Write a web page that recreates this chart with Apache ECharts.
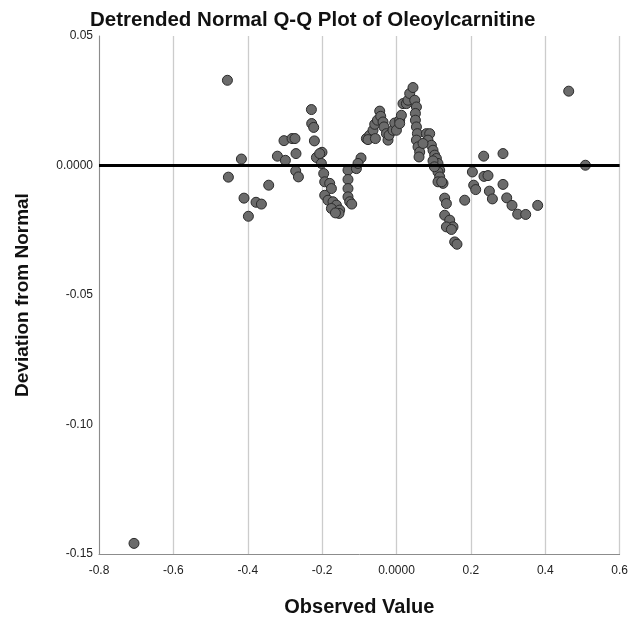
<!DOCTYPE html>
<html>
<head>
<meta charset="utf-8">
<script src="https://cdn.jsdelivr.net/npm/echarts@6/dist/echarts.min.js"></script>
<style>
html,body{margin:0;padding:0;background:#fff;}
#chart{width:631px;height:623px;}
</style>
</head>
<body>
<div id="chart"></div>
<script>
// Observed values (x) and deviation from normal (y)
const observed = [
  -0.4547,-0.4171,-0.4521,-0.3437,-0.4101,-0.3778,-0.3633,-0.3983,-0.3203,-0.2988,
  -0.3026,-0.2810,-0.2730,-0.2703,-0.2711,-0.2638,-0.2289,-0.2281,-0.2227,-0.2208,
  -0.2004,-0.2154,-0.2066,-0.2020,-0.1958,-0.1931,-0.1797,-0.1751,-0.1931,-0.1842,
  -0.1708,-0.1617,-0.1751,-0.1528,-0.1547,-0.1643,-0.1305,-0.1305,-0.1305,-0.1305,
  -0.1259,-0.1205,-0.1079,-0.0955,-0.1036,-0.0810,-0.0721,-0.0767,-0.0632,-0.0568,
  -0.0587,-0.0514,-0.0452,-0.0425,-0.0363,-0.0337,-0.0272,-0.0229,-0.0202,-0.0095,
  -0.0049,0.0085,0.0131,0.0174,-0.0003,0.0085,0.0266,0.0309,0.0354,0.0443,
  0.0489,0.0535,0.0508,0.0508,0.0535,0.0561,0.0535,0.0578,0.0623,0.0605,
  0.0803,0.0892,0.0846,0.0938,0.0981,0.1027,0.1072,0.1115,0.1161,0.1115,
  0.1161,0.1115,0.1250,0.1295,0.1341,0.1295,0.1430,0.1519,0.1341,0.1564,
  0.1626,0.1476,0.1833,0.2040,0.2075,0.2129,0.2352,0.2460,0.2344,0.2497,
  0.2578,0.2863,0.2863,0.2963,0.3105,0.3258,0.3474,0.3796,0.4630,0.5079,
  -0.7059,0.0712,0.0981,0.1019,0.1215
];
const deviation = [
  0.0329,0.0025,-0.0045,-0.0076,-0.0126,-0.0142,-0.0149,-0.0196,0.0036,0.0020,
  0.0096,0.0104,0.0104,0.0046,-0.0021,-0.0044,0.0216,0.0162,0.0147,0.0095,
  0.0051,0.0031,0.0046,0.0008,-0.0031,-0.0063,-0.0069,-0.0089,-0.0115,-0.0134,
  -0.0140,-0.0153,-0.0166,-0.0172,-0.0185,-0.0183,-0.0018,-0.0054,-0.0089,-0.0121,
  -0.0140,-0.0149,-0.0012,0.0029,0.0008,0.0104,0.0117,0.0100,0.0136,0.0104,
  0.0159,0.0175,0.0210,0.0190,0.0168,0.0149,0.0123,0.0098,0.0117,0.0136,
  0.0164,0.0175,0.0194,0.0239,0.0136,0.0162,0.0239,0.0252,0.0278,0.0301,
  0.0252,0.0226,0.0201,0.0175,0.0149,0.0123,0.0098,0.0072,0.0052,0.0033,
  0.0123,0.0123,0.0098,0.0078,0.0059,0.0040,0.0027,0.0008,-0.0018,-0.0025,
  -0.0044,-0.0063,-0.0069,-0.0126,-0.0147,-0.0192,-0.0211,-0.0237,-0.0237,-0.0295,
  -0.0304,-0.0247,-0.0134,-0.0025,-0.0076,-0.0093,-0.0042,-0.0039,0.0036,-0.0099,
  -0.0129,0.0046,-0.0073,-0.0125,-0.0154,-0.0188,-0.0189,-0.0154,0.0287,0.0001,
  -0.1459,0.0085,0.0018,-0.0005,-0.0063
];
const xTicks = { min: -0.8, max: 0.6, interval: 0.2 };
const yTicks = { min: -0.15, max: 0.05, interval: 0.05 };
const referenceValue = 0;

const titleText = 'Detrended Normal Q-Q Plot of Oleoylcarnitine';
const xName = 'Observed Value';
const yName = 'Deviation from Normal';

const points = observed.map((x, i) => [x, deviation[i]]);

function fmtX(v){ return Math.abs(v) < 1e-9 ? '0.0000' : v.toFixed(1); }
function fmtY(v){ return Math.abs(v) < 1e-9 ? '0.0000' : v.toFixed(2); }

const FONT = '"Liberation Sans", Arial, sans-serif';
const chart = echarts.init(document.getElementById('chart'), null, {renderer: 'canvas'});
chart.setOption({
  animation: false,
  backgroundColor: '#ffffff',
  title: {
    text: titleText,
    left: 85,
    top: 5,
    textStyle: { fontFamily: FONT, fontSize: 20.5, fontWeight: 'bold', color: '#111' }
  },
  grid: { left: 99, right: 11, top: 36, bottom: 69, containLabel: false },
  xAxis: {
    type: 'value',
    min: xTicks.min, max: xTicks.max, interval: xTicks.interval,
    name: xName,
    nameLocation: 'middle',
    nameGap: 43,
    nameTextStyle: { fontFamily: FONT, fontSize: 20, fontWeight: 'bold', color: '#111' },
    axisLine: { show: true, onZero: false, lineStyle: { color: '#8c8c8c', width: 1 } },
    axisTick: { show: false },
    axisLabel: { fontFamily: FONT, fontSize: 12, color: '#222', margin: 11, formatter: fmtX, showMinLabel: true, showMaxLabel: true },
    splitLine: { show: true, lineStyle: { color: '#cccccc', width: 1.3 } }
  },
  yAxis: {
    type: 'value',
    min: yTicks.min, max: yTicks.max, interval: yTicks.interval,
    name: yName,
    nameLocation: 'middle',
    nameGap: 67,
    nameTextStyle: { fontFamily: FONT, fontSize: 19, fontWeight: 'bold', color: '#111' },
    axisLine: { show: true, onZero: false, lineStyle: { color: '#8c8c8c', width: 1 } },
    axisTick: { show: false },
    axisLabel: { fontFamily: FONT, fontSize: 12, color: '#222', margin: 6, padding: [7, 0, 0, 0], formatter: fmtY, showMinLabel: true, showMaxLabel: true },
    splitLine: { show: false }
  },
  series: [
    {
      type: 'scatter',
      data: points,
      symbol: 'circle',
      symbolSize: 10,
      itemStyle: { color: '#6b6b6b', borderColor: '#2b2b2b', borderWidth: 1, opacity: 1 },
      z: 2
    },
    {
      type: 'scatter',
      data: [],
      z: 5,
      markLine: {
        silent: true,
        symbol: ['none', 'none'],
        label: { show: false },
        lineStyle: { color: '#000', width: 3, type: 'solid' },
        data: [{ yAxis: referenceValue }]
      }
    }
  ]
});
</script>
</body>
</html>
